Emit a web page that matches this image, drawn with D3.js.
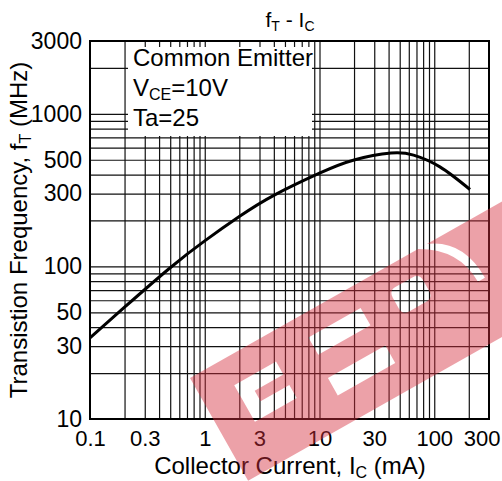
<!DOCTYPE html>
<html>
<head>
<meta charset="utf-8">
<script src="https://cdn.jsdelivr.net/npm/d3@7"></script>
<style>
 body{margin:0;background:#fff;}
 text{font-family:"Liberation Sans",Arial,sans-serif;}
</style>
</head>
<body>
<div id="chart"></div>
<script>
//Curve
var icValues = [0.1, 0.2, 0.5, 1, 2, 4, 10, 20, 42, 66, 112, 205];
var ftValues = [34, 54, 98, 147, 212, 292, 408, 498, 553, 536, 449, 319];
var xTickLabels = [0.1, 0.3, 1, 3, 10, 30, 100, 300];
var yTickLabels = [10, 30, 50, 100, 300, 500, 1000, 3000];
var notes = ["Common Emitter", "VCE=10V", "Ta=25"];

var W = 502, H = 481;
var margin = {top: 41, right: 13, bottom: 62, left: 90};
var width  = W - margin.left - margin.right;
var height = H - margin.top - margin.bottom;

var xScale = d3.scaleLog().domain([0.1, 300]).range([0, width]);
var yScale = d3.scaleLog().domain([10, 3000]).range([height, 0]);

//every 1..9 step of each decade for the grid
function gridVals(lo, hi){
 var out = [];
 for(var d = lo; d < hi; d *= 10){
  for(var k = 1; k < 10; k++){ var v = +(k*d).toPrecision(3); if(v > lo && v < hi) out.push(v); }
 }
 return out;
}

var svg = d3.select("#chart").append("svg")
 .attr("width", W).attr("height", H);
var g = svg.append("g")
 .attr("transform", "translate(" + margin.left + "," + margin.top + ")");

//grid
g.append("g")
 .attr("transform", "translate(0," + height + ")")
 .call(d3.axisBottom(xScale).tickValues(gridVals(0.1, 300)).tickSize(-height).tickFormat(""))
 .call(a => a.select(".domain").remove())
 .selectAll("line").attr("stroke", "#111").attr("stroke-width", 1.2);
g.append("g")
 .call(d3.axisLeft(yScale).tickValues(gridVals(10, 3000)).tickSize(-width).tickFormat(""))
 .call(a => a.select(".domain").remove())
 .selectAll("line").attr("stroke", "#111").attr("stroke-width", 1.2);

//white box behind the conditions text
g.append("rect")
 .attr("x", 38).attr("y", 6).attr("width", 184).attr("height", 89)
 .attr("fill", "#fff");

//frame
g.append("rect")
 .attr("width", width).attr("height", height)
 .attr("fill", "none").attr("stroke", "#000").attr("stroke-width", 2);

//the curve
var data = icValues.map((v, i) => ({x: v, y: ftValues[i]}));
var line = d3.line()
 .x(d => xScale(d.x))
 .y(d => yScale(d.y))
 .curve(d3.curveNatural);
g.append("path")
 .datum(data)
 .attr("d", line)
 .attr("fill", "none").attr("stroke", "#000").attr("stroke-width", 3);

//tick labels
var xLab = g.append("g")
 .attr("transform", "translate(0," + height + ")")
 .call(d3.axisBottom(xScale).tickValues(xTickLabels).tickSize(0).tickPadding(0).tickFormat(d => d));
xLab.select(".domain").remove();
xLab.selectAll("text").attr("y", 27).attr("dy", null)
 .attr("fill", "#000").style("font-size", "22px").attr("font-family", null);
xLab.selectAll("text").filter(d => d === 300).attr("text-anchor", "end").attr("x", 11);

var yLab = g.append("g")
 .call(d3.axisLeft(yScale).tickValues(yTickLabels).tickSize(0).tickPadding(8).tickFormat(d => d));
yLab.select(".domain").remove();
yLab.selectAll("text").attr("fill", "#000").style("font-size", "23px").attr("font-family", null);

//conditions text
g.append("text").attr("x", 43).attr("y", 25).style("font-size", "24px").text(notes[0]);
var t2 = g.append("text").attr("x", 43).attr("y", 55).style("font-size", "24px");
t2.append("tspan").text(notes[1].slice(0, 1));
t2.append("tspan").text(notes[1].slice(1, 3)).style("font-size", "16px").attr("dy", 4);
t2.append("tspan").text(notes[1].slice(3)).attr("dy", -4);
g.append("text").attr("x", 43).attr("y", 85).style("font-size", "24px").text(notes[2]);

//title
var title = svg.append("text").attr("x", 290).attr("y", 27)
 .attr("text-anchor", "middle").style("font-size", "21px");
title.append("tspan").text("f");
title.append("tspan").text("T").style("font-size", "14px").attr("dy", 4);
title.append("tspan").text(" - I").attr("dy", -4);
title.append("tspan").text("C").style("font-size", "14px").attr("dy", 4);

//x axis title
var xt = svg.append("text").attr("x", 290).attr("y", 474)
 .attr("text-anchor", "middle").style("font-size", "24px");
xt.append("tspan").text("Collector Current, I");
xt.append("tspan").text("C").style("font-size", "16px").attr("dy", 4);
xt.append("tspan").text(" (mA)").attr("dy", -4);

//y axis title
var yt = svg.append("text")
 .attr("transform", "translate(27,230) rotate(-90)")
 .attr("text-anchor", "middle").style("font-size", "24px");
yt.append("tspan").text("Transistion Frequency, f");
yt.append("tspan").text("T").style("font-size", "16px").attr("dy", 4);
yt.append("tspan").text(" (MHz)").attr("dy", -4);

//watermark band: solid strip with the letter openings cut out
var wm = "M0,0 H540 V118 H0 Z" +
 " M35,28 H83 V43 H50 V55 H83 V70 H35 Z" +     // first E
 " M123,23 H183 V43 H123 Z" +                  // second E
 " M120,68 H186 V88 H120 Z" +
 " M224,22 H243 Q251,22 251,30 V42 Q251,50 243,50 H224 Q216,50 216,42 V30 Q216,22 224,22 Z" + // P hole
 " M262,0 H272 Q306,14 306,58 H298 Q298,20 262,0 Z";  // P outline
svg.append("path")
 .attr("transform", "translate(190,378) rotate(-29.5)")
 .attr("d", wm)
 .attr("fill-rule", "evenodd")
 .attr("fill", "#d42f3d").attr("fill-opacity", 0.45);
</script>
</body>
</html>
